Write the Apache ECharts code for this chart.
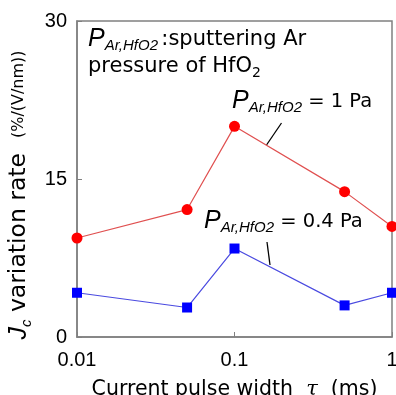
<!DOCTYPE html>
<html><head><meta charset="utf-8">
<script src="https://cdn.jsdelivr.net/npm/echarts@6/dist/echarts.min.js"></script>
<style>html,body{margin:0;padding:0;background:#fff}#c{width:396px;height:395px}</style>
</head><body><div id="c"></div>
<script>
const pulseWidth = [0.01, 0.05, 0.1, 0.5, 1];
const rate1Pa = [9.4, 12.1, 20.0, 13.8, 10.5];
const rate04Pa = [4.2, 2.8, 8.4, 3.0, 4.2];
const yTicks = [0, 15, 30];
const xTickLabels = {0.01: '0.01', 0.1: '0.1', 1: '1'};

const chart = echarts.init(document.getElementById('c'), null, {renderer: 'canvas'});
const pRich = {
  P: {fontFamily: 'Liberation Sans', fontStyle: 'italic', fontSize: 25, color: '#000', lineHeight: 28},
  s: {fontFamily: 'Liberation Sans', fontStyle: 'italic', fontSize: 15, color: '#000', verticalAlign: 'bottom', lineHeight: 22},
  t: {fontFamily: 'DejaVu Sans', fontSize: 21, color: '#000', lineHeight: 28},
  e: {fontFamily: 'DejaVu Sans', fontSize: 19.5, color: '#000', lineHeight: 28},
  n: {fontFamily: 'DejaVu Sans', fontSize: 14, color: '#000', verticalAlign: 'bottom', lineHeight: 22}
};
chart.setOption({
  animation: false,
  grid: {left: 77, right: 4, top: 21, bottom: 58, containLabel: false, outerBoundsMode: 'none',
    show: true, borderColor: '#808080', borderWidth: 1.5, backgroundColor: 'transparent'},
  xAxis: {
    type: 'log', logBase: 10, min: 0.01, max: 1,
    axisLine: {show: true, lineStyle: {color: '#808080', width: 1.5}},
    axisTick: {show: true, inside: true, length: 5, lineStyle: {color: '#808080'}},
    minorTick: {show: false},
    splitLine: {show: false},
    axisLabel: {color: '#000', fontFamily: 'Liberation Sans', fontSize: 20, margin: 13,
      formatter: v => xTickLabels[+v.toPrecision(3)] || ''},
    name: '{a|Current pulse width  }{b|τ}{a|  (ms)}',
    nameLocation: 'middle', nameGap: 42,
    nameTextStyle: {rich: {
      a: {fontFamily: 'DejaVu Sans', fontSize: 20.5, color: '#000'},
      b: {fontFamily: 'DejaVu Serif', fontStyle: 'italic', fontSize: 21, color: '#000'}
    }}
  },
  yAxis: {
    type: 'value', min: yTicks[0], max: yTicks[yTicks.length - 1], interval: 15,
    axisLine: {show: true, lineStyle: {color: '#808080', width: 1.5}},
    axisTick: {show: true, inside: true, length: 5, lineStyle: {color: '#808080'}},
    splitLine: {show: false},
    axisLabel: {color: '#000', fontFamily: 'Liberation Sans', fontSize: 20, margin: 10},
    name: '{J|J}{c|c}{a| variation rate  }{u|(%/(V/nm))}{sp|}',
    nameLocation: 'middle', nameRotate: 90, nameGap: 38,
    nameTextStyle: {rich: {
      J: {fontFamily: 'Liberation Sans', fontStyle: 'italic', fontSize: 25, color: '#000', lineHeight: 30},
      c: {fontFamily: 'Liberation Sans', fontStyle: 'italic', fontSize: 15, color: '#000', verticalAlign: 'bottom', lineHeight: 24},
      a: {fontFamily: 'DejaVu Sans', fontSize: 23.5, color: '#000', lineHeight: 30},
      u: {fontFamily: 'DejaVu Sans', fontSize: 16, color: '#000', lineHeight: 30},
      sp: {width: 32, lineHeight: 30}
    }}
  },
  series: [
    {type: 'line', data: pulseWidth.map((x, i) => [x, rate1Pa[i]]),
     lineStyle: {color: '#e05050', width: 1.2}, itemStyle: {color: '#ff0000'},
     symbol: 'circle', symbolSize: 11, z: 3},
    {type: 'line', data: pulseWidth.map((x, i) => [x, rate04Pa[i]]),
     lineStyle: {color: '#4a4ae0', width: 1.2}, itemStyle: {color: '#0000ff'},
     symbol: 'rect', symbolSize: 10, z: 3}
  ],
  graphic: [
    {type: 'text', left: 88, top: 27, style: {text: '{P|P}{s|Ar,HfO2} {t|:sputtering Ar}', rich: pRich}},
    {type: 'text', left: 88, top: 56, style: {text: '{t|pressure of HfO}{n|2}', rich: pRich}},
    {type: 'text', left: 232, top: 89, style: {text: '{P|P}{s|Ar,HfO2}{e| = 1 Pa}', rich: pRich}},
    {type: 'text', left: 204, top: 209, style: {text: '{P|P}{s|Ar,HfO2}{e| = 0.4 Pa}', rich: pRich}},
    {type: 'line', shape: {x1: 281.5, y1: 123, x2: 266.5, y2: 145}, style: {stroke: '#000', lineWidth: 1.3}},
    {type: 'line', shape: {x1: 267, y1: 242, x2: 270, y2: 265}, style: {stroke: '#000', lineWidth: 1.3}}
  ]
});
</script></body></html>
